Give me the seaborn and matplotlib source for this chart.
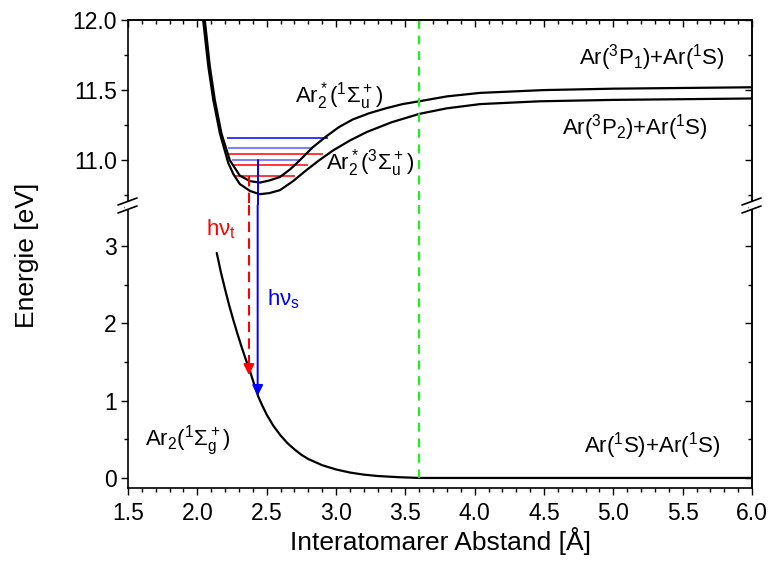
import numpy as np
import pandas as pd
import matplotlib
matplotlib.use("Agg")
import matplotlib.pyplot as plt
from matplotlib.lines import Line2D
from matplotlib.patches import Rectangle
from matplotlib.ticker import MultipleLocator, FormatStrFormatter
import seaborn as sns

sns.set_theme(style="ticks")
plt.rcParams["font.family"] = ["Liberation Sans", "DejaVu Sans"]
plt.rcParams["mathtext.fontset"] = "custom"
plt.rcParams["mathtext.rm"] = "Liberation Sans"
plt.rcParams["mathtext.it"] = "Liberation Sans"
plt.rcParams["mathtext.bf"] = "Liberation Sans:bold"
plt.rcParams["text.color"] = "black"
plt.rcParams["axes.labelcolor"] = "black"
plt.rcParams["xtick.color"] = "black"
plt.rcParams["ytick.color"] = "black"

# --- potential curves (interatomic distance in Angstrom, energy in eV) ---
r_singlet = [2.04, 2.055, 2.09, 2.126, 2.174, 2.234, 2.306, 2.38, 2.452, 2.52, 2.596,
             2.67, 2.74, 2.83, 2.93, 3.02, 3.12, 3.24, 3.36, 3.48, 3.6, 3.8, 4.04,
             4.5, 5.0, 6.0]
e_singlet = [12.1, 11.99, 11.67, 11.43, 11.19, 11.0, 10.89, 10.85, 10.84, 10.855, 10.88,
             10.935, 11.0, 11.09, 11.17, 11.235, 11.29, 11.335, 11.37, 11.40, 11.42,
             11.455, 11.48, 11.50, 11.51, 11.52]

r_triplet = [2.03, 2.043, 2.079, 2.115, 2.163, 2.223, 2.26, 2.306, 2.38, 2.45, 2.52,
             2.596, 2.69, 2.788, 2.88, 2.98, 3.10, 3.22, 3.40, 3.6, 3.8, 4.04, 4.47,
             5.0, 6.0]
e_triplet = [12.1, 11.99, 11.67, 11.43, 11.19, 10.98, 10.90, 10.83, 10.78, 10.757, 10.765,
             10.786, 10.85, 10.93, 11.0, 11.07, 11.14, 11.20, 11.27, 11.33, 11.37, 11.40,
             11.42, 11.43, 11.44]

r_ground = [2.14, 2.17, 2.20, 2.23, 2.26, 2.29, 2.32, 2.35, 2.38, 2.41, 2.44, 2.47, 2.50,
            2.55, 2.60, 2.65, 2.70, 2.75, 2.80, 2.90, 3.00, 3.10, 3.20, 3.30, 3.45,
            3.60, 4.0, 5.0, 6.0]
e_ground = [2.91, 2.66, 2.44, 2.23, 2.04, 1.86, 1.69, 1.53, 1.38, 1.21, 1.05, 0.93, 0.82,
            0.67, 0.55, 0.45, 0.37, 0.30, 0.245, 0.165, 0.11, 0.070, 0.043, 0.025, 0.010,
            0.0, 0.0, 0.0, 0.0]

# --- vibrational levels: energy, start, end, kind ---
level_e = [11.16, 11.084, 11.043, 11.0, 10.966, 10.886]
level_r0 = [2.212, 2.223, 2.212, 2.248, 2.248, 2.271]
level_r1 = [2.945, 2.836, 2.908, 2.74, 2.80, 2.704]
level_kind = ["s", "s2", "t", "s2", "t", "t"]
level_color = {"s": "#0000FF", "s2": "#7F7FFF", "t": "#FF0000"}

# --- transitions ---
r_singlet_em, e_singlet_start, e_singlet_end = 2.435, 11.0, 1.06
r_triplet_em, e_triplet_start, e_triplet_end = 2.372, 10.886, 1.33
r_marker = 3.6

x_lim = (1.5, 6.0)
y_lim_hi = (10.68, 12.0)
y_lim_lo = (-0.13, 3.53)

TICK_FS = 16.5
LABEL_FS = 19
STATE_FS = 16

W_PX, H_PX = 768, 567
left_px, right_px = 128, 752
top_px, brk_px, bot_px = 20, 205, 488

fig = plt.figure(figsize=(W_PX / 100, H_PX / 100), dpi=100)
L = left_px / W_PX
Wd = (right_px - left_px) / W_PX
ax_hi = fig.add_axes([L, 1 - brk_px / H_PX, Wd, (brk_px - top_px) / H_PX])
ax_lo = fig.add_axes([L, 1 - bot_px / H_PX, Wd, (bot_px - brk_px) / H_PX])

curve_kw = dict(color="black", linewidth=1.6, sort=False, estimator=None, legend=False)
sns.lineplot(data=pd.DataFrame({"r": r_singlet, "E": e_singlet}), x="r", y="E", ax=ax_hi, **curve_kw)
sns.lineplot(data=pd.DataFrame({"r": r_triplet, "E": e_triplet}), x="r", y="E", ax=ax_hi, **curve_kw)
sns.lineplot(data=pd.DataFrame({"r": r_ground, "E": e_ground}), x="r", y="E", ax=ax_lo, **curve_kw)

for e, a, b, k in zip(level_e, level_r0, level_r1, level_kind):
    ax_hi.hlines(e, a, b, color=level_color[k], linewidth=1.5 if k == "s2" else 1.1, zorder=1)

blue, red, green = "#0000FF", "#FF0000", "#22EE22"

# singlet emission (solid blue arrow across the break)
ax_hi.plot([r_singlet_em, r_singlet_em], [e_singlet_start, y_lim_hi[0]], color=blue, lw=1.4)
ax_lo.annotate("", xy=(r_singlet_em, e_singlet_end), xytext=(r_singlet_em, y_lim_lo[1]),
               arrowprops=dict(arrowstyle="-|>", color=blue, lw=1.4, mutation_scale=16,
                               shrinkA=0, shrinkB=0))

# triplet emission (dashed red arrow across the break)
ax_hi.plot([r_triplet_em, r_triplet_em], [e_triplet_start, y_lim_hi[0]], color=red, lw=1.5,
           dashes=(5, 3))
ax_lo.plot([r_triplet_em, r_triplet_em], [y_lim_lo[1], e_triplet_end + 0.12], color=red, lw=1.5,
           dashes=(5, 3))
ax_lo.annotate("", xy=(r_triplet_em, e_triplet_end), xytext=(r_triplet_em, e_triplet_end + 0.2),
               arrowprops=dict(arrowstyle="-|>", color=red, lw=1.4, mutation_scale=16,
                               shrinkA=0, shrinkB=0))

# equilibrium distance marker
ax_hi.plot([r_marker, r_marker], [12.0, y_lim_hi[0]], color=green, lw=1.6, dashes=(4, 3))
ax_lo.plot([r_marker, r_marker], [y_lim_lo[1], 0.0], color=green, lw=1.6, dashes=(4, 3))

# axes limits, ticks and spines
for ax in (ax_hi, ax_lo):
    ax.set_xlim(*x_lim)
    ax.set_xlabel("")
    ax.set_ylabel("")
    for s in ax.spines.values():
        s.set_linewidth(1.2)
        s.set_color("black")
    ax.tick_params(which="major", length=5, width=1.0, direction="out", labelsize=TICK_FS,
                   colors="black", pad=3)
    ax.tick_params(which="minor", length=3, width=1.0, direction="out")
    ax.xaxis.set_major_locator(MultipleLocator(0.5))
    ax.xaxis.set_minor_locator(MultipleLocator(0.1))

ax_hi.set_ylim(*y_lim_hi)
ax_lo.set_ylim(*y_lim_lo)
ax_hi.yaxis.set_major_locator(MultipleLocator(0.5))
ax_hi.yaxis.set_minor_locator(MultipleLocator(0.25))
ax_hi.yaxis.set_major_formatter(FormatStrFormatter("%.1f"))
ax_lo.yaxis.set_major_locator(MultipleLocator(1))
ax_lo.yaxis.set_minor_locator(MultipleLocator(0.5))

ax_hi.spines["bottom"].set_visible(False)
ax_hi.tick_params(axis="x", which="both", bottom=False, labelbottom=False)
ax_lo.spines["top"].set_visible(False)
ax_lo.xaxis.set_major_formatter(FormatStrFormatter("%.1f"))
ax_lo.tick_params(axis="x", which="major", pad=5)

# mirrored ticks pointing inward on top and right
sec_top = ax_hi.secondary_xaxis("top")
sec_top.xaxis.set_major_locator(MultipleLocator(0.5))
sec_top.xaxis.set_minor_locator(MultipleLocator(0.1))
sec_top.tick_params(which="major", direction="in", length=5, width=1.0, labeltop=False)
sec_top.tick_params(which="minor", direction="in", length=3, width=1.0)
sec_top.spines["top"].set_linewidth(1.2)
for ax, maj, mnr in ((ax_hi, 0.5, 0.25), (ax_lo, 1, 0.5)):
    sec = ax.secondary_yaxis("right")
    sec.yaxis.set_major_locator(MultipleLocator(maj))
    sec.yaxis.set_minor_locator(MultipleLocator(mnr))
    sec.tick_params(which="major", direction="in", length=5, width=1.0, labelright=False)
    sec.tick_params(which="minor", direction="in", length=3, width=1.0)
    sec.spines["right"].set_linewidth(1.2)

# axis labels
fig.text((left_px + right_px) / 2 / W_PX, 1 - 541 / H_PX, "Interatomarer Abstand [Å]",
         ha="center", va="center", fontsize=LABEL_FS)
fig.text(27 / W_PX, 1 - 255 / H_PX, "Energie [eV]", rotation=90,
         ha="center", va="center", fontsize=LABEL_FS)

# state labels
lab = dict(fontsize=STATE_FS, color="black", ha="center", va="center")
ax_hi.text(3.025, 11.46, r"Ar$_2^*$($^1\Sigma_u^+$)", **lab)
ax_hi.text(3.245, 10.98, r"Ar$_2^*$($^3\Sigma_u^+$)", **lab)
ax_hi.text(5.28, 11.735, r"Ar($^3$P$_1$)+Ar($^1$S)", **lab)
ax_hi.text(5.155, 11.23, r"Ar($^3$P$_2$)+Ar($^1$S)", **lab)
ax_lo.text(1.93, 0.48, r"Ar$_2$($^1\Sigma_g^+$)", **lab)
ax_lo.text(5.28, 0.42, r"Ar($^1$S)+Ar($^1$S)", **lab)
ax_lo.text(2.17, 3.22, r"hν$_\mathregular{t}$", fontsize=STATE_FS, color=red, ha="center", va="center")
ax_lo.text(2.62, 2.31, r"hν$_\mathregular{s}$", fontsize=STATE_FS, color=blue, ha="center", va="center")

# axis break marks on both vertical spines
def fx(px):
    return px / W_PX

def fy(py):
    return 1 - py / H_PX

for xs in (left_px, right_px):
    fig.add_artist(Rectangle((fx(xs - 3), fy(209)), 6 / W_PX, 7 / H_PX, transform=fig.transFigure,
                             facecolor="white", edgecolor="none", zorder=10))
    for yc in (201.5, 209.5):
        fig.add_artist(Line2D([fx(xs - 10), fx(xs + 9)], [fy(yc + 3.5), fy(yc - 3.5)],
                              transform=fig.transFigure, color="black", lw=1.2, zorder=11))

fig.savefig("out.png", dpi=100)
